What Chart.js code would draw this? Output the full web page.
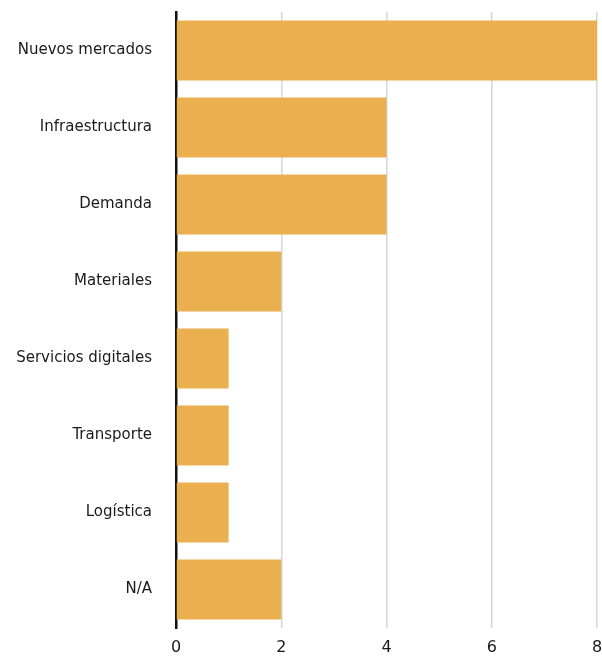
<!DOCTYPE html>
<html>
<head>
<meta charset="utf-8">
<script src="https://cdn.jsdelivr.net/npm/chart.js@4/dist/chart.umd.min.js"></script>
<style>
  html, body { margin: 0; padding: 0; background: #fff; overflow: hidden; }
  canvas { display: block; }
</style>
</head>
<body>
<canvas id="c" width="602" height="656"></canvas>
<script>
const categories = ["Nuevos mercados", "Infraestructura", "Demanda", "Materiales",
  "Servicios digitales", "Transporte", "Logística", "N/A"];
const counts = [8, 4, 4, 2, 1, 1, 1, 2];
const xTicks = [0, 2, 4, 6, 8];

const barColor = "#EAB04F";
const fontFamily = "'DejaVu Sans', sans-serif";

new Chart(document.getElementById("c"), {
  type: "bar",
  data: {
    labels: categories,
    datasets: [{
      data: counts,
      backgroundColor: barColor,
      borderWidth: 0,
      barPercentage: 0.78,
      categoryPercentage: 1
    }]
  },
  options: {
    indexAxis: "y",
    responsive: false,
    animation: false,
    layout: { padding: { top: 12, right: 5, left: 0, bottom: 0 } },
    plugins: { legend: { display: false }, tooltip: { enabled: false } },
    scales: {
      x: {
        min: 0, max: 8,
        afterBuildTicks: (axis) => { axis.ticks = xTicks.map(v => ({ value: v })); },
        grid: { color: "#d6d6d6", lineWidth: 1.5, drawTicks: false },
        border: { display: false },
        ticks: { color: "#1a1a1a", font: { family: fontFamily, size: 16 }, padding: 10 },
        afterFit: (axis) => {
          axis.height = 28;
          axis.paddingLeft = 0;
          axis.paddingRight = 0;
        }
      },
      y: {
        grid: { display: false, drawTicks: false },
        border: { display: true, color: "#111", width: 2.5 },
        ticks: { color: "#1a1a1a", font: { family: fontFamily, size: 15 }, padding: 24 },
        afterFit: (axis) => {
          axis.width = 176;
          axis.paddingTop = 0;
          axis.paddingBottom = 0;
        }
      }
    }
  }
});
</script>
</body>
</html>
